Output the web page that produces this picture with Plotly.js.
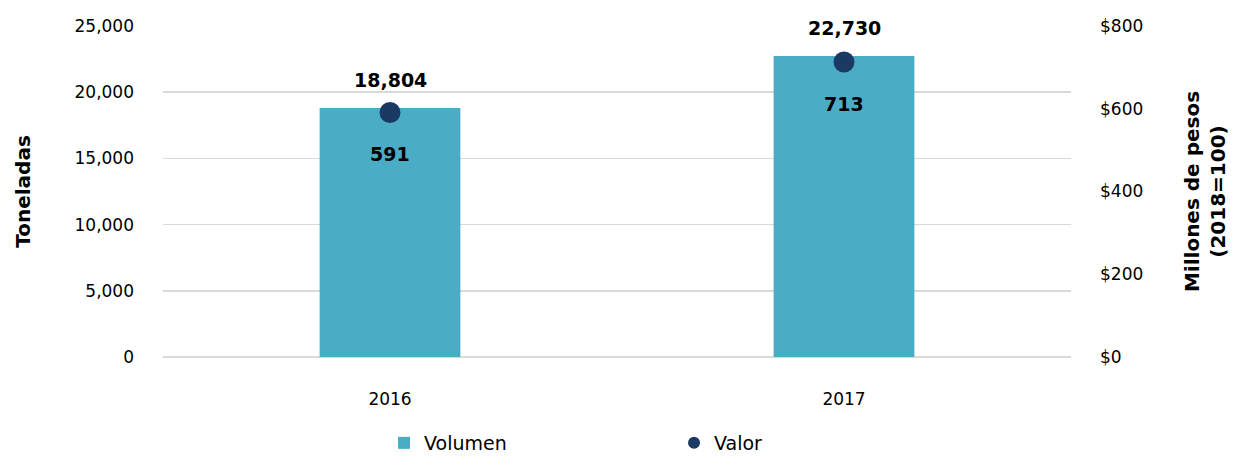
<!DOCTYPE html>
<html><head><meta charset="utf-8">
<script src="https://cdn.plot.ly/plotly-3.0.1.min.js"></script>
<style>html,body{margin:0;padding:0;background:#fff}#chart{width:1255px;height:462px}</style>
</head><body><div id="chart"></div>
<script>
const years = ['2016', '2017'];
const volumen = [18804, 22730];
const valor = [591, 713];
const volumenLabels = ['18,804', '22,730'];
const valorLabels = ['591', '713'];

const FONT = 'DejaVu Sans, sans-serif';

const traces = [
  {
    type: 'bar', name: 'Volumen', x: years, y: volumen,
    marker: {color: '#4BACC6'}, width: 0.31,
    hoverinfo: 'none'
  },
  {
    type: 'scatter', mode: 'markers', name: 'Valor', x: years, y: valor, yaxis: 'y2',
    marker: {color: '#1B3A63', size: 21}, cliponaxis: false,
    hoverinfo: 'none'
  }
];

const annotations = [];
years.forEach((yr, i) => {
  annotations.push({x: i, y: volumen[i], xref: 'x', yref: 'y', text: '<b>' + volumenLabels[i] + '</b>',
    showarrow: false, yshift: 28, font: {size: 19, color: '#000', family: FONT}});
  annotations.push({x: i, y: valor[i], xref: 'x', yref: 'y2', text: '<b>' + valorLabels[i] + '</b>',
    showarrow: false, yshift: -42, font: {size: 19, color: '#000', family: FONT}});
});

const layout = {
  width: 1255, height: 462,
  margin: {l: 163, r: 184, t: 26, b: 105},
  paper_bgcolor: '#fff', plot_bgcolor: '#fff',
  font: {family: FONT, color: '#000', size: 16},
  showlegend: true,
  legend: {orientation: 'h', xref: 'container', yref: 'container', x: 0.306, xanchor: 'left',
           y: -0.03, yanchor: 'bottom',
           font: {size: 19, family: FONT}, entrywidth: 245, itemsizing: 'constant'},
  annotations: annotations,
  xaxis: {type: 'category', range: [-0.5, 1.5], showgrid: false, zeroline: false, showline: false,
          ticks: '', tickfont: {size: 17}, ticklabelstandoff: 30},
  yaxis: {range: [0, 25000], dtick: 5000, tickformat: ',d', showgrid: true,
          gridcolor: '#D9D9D9', gridwidth: 1.5, zeroline: true, zerolinecolor: '#D9D9D9', zerolinewidth: 1.5,
          showline: false, ticks: '', tickfont: {size: 17}, ticklabelstandoff: 28,
          title: {text: '<b>Toneladas</b>', font: {size: 20}, standoff: 38}},
  yaxis2: {range: [0, 800], dtick: 200, tickprefix: '$', overlaying: 'y', side: 'right',
           showgrid: false, zeroline: false, showline: false, ticks: '',
           tickfont: {size: 17}, ticklabelstandoff: 28,
           title: {text: '<b>Millones de pesos<br>(2018=100)</b>', font: {size: 20}, standoff: 42}}
};

Plotly.newPlot('chart', traces, layout, {displayModeBar: false, staticPlot: true});
</script></body></html>
